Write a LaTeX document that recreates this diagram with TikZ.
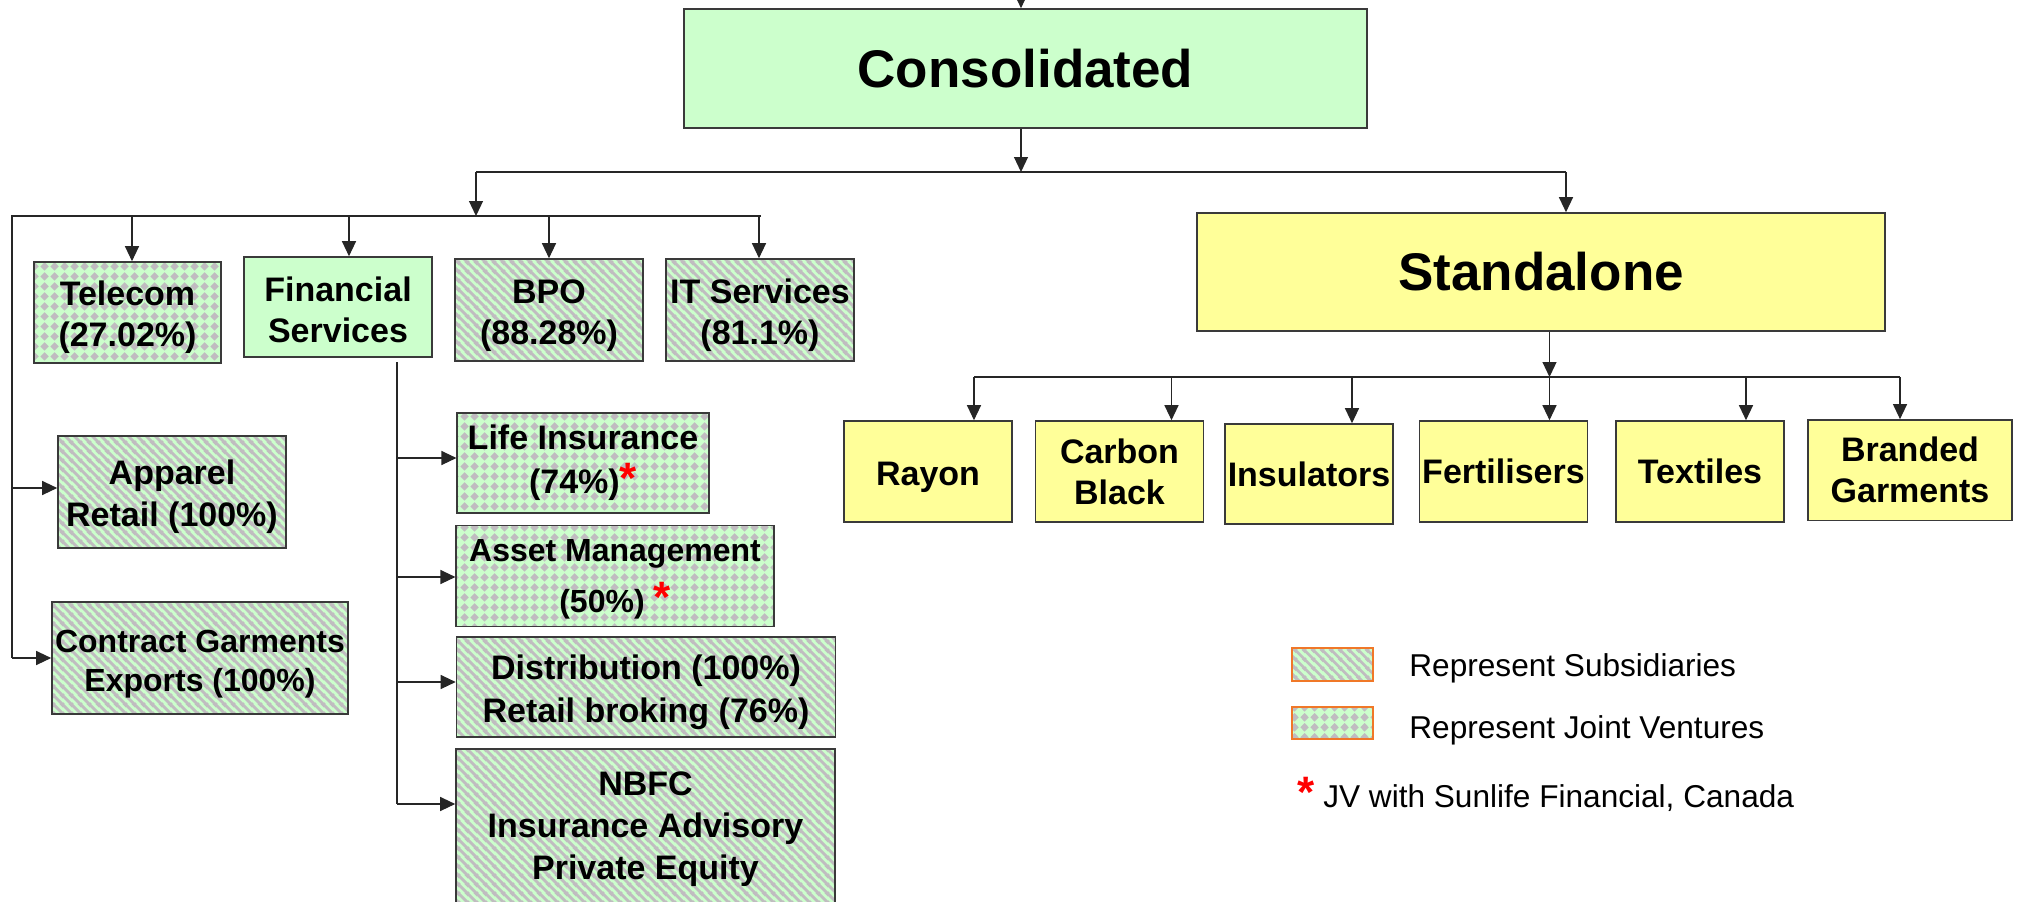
\documentclass[tikz,border=0pt]{standalone}
\usepackage{fontspec}
\setmainfont{Liberation Sans}
\usetikzlibrary{arrows.meta,patterns}

\definecolor{subgreen}{HTML}{CCFFCC}
\definecolor{standyellow}{HTML}{FFFF99}
\definecolor{hatchgray}{HTML}{C0BCC0}
\definecolor{boxgray}{HTML}{3A3A3A}
\definecolor{legendorange}{HTML}{F07828}

\pgfdeclarepatternformonly{substripes}{\pgfqpoint{0pt}{0pt}}{\pgfqpoint{4.5pt}{4.5pt}}{\pgfqpoint{4.5pt}{4.5pt}}{%
  \pgfsetlinewidth{1.5pt}%
  \pgfpathmoveto{\pgfqpoint{-1pt}{5.5pt}}\pgfpathlineto{\pgfqpoint{5.5pt}{-1pt}}%
  \pgfpathmoveto{\pgfqpoint{-1pt}{1pt}}\pgfpathlineto{\pgfqpoint{1pt}{-1pt}}%
  \pgfpathmoveto{\pgfqpoint{3.5pt}{5.5pt}}\pgfpathlineto{\pgfqpoint{5.5pt}{3.5pt}}%
  \pgfusepath{stroke}}
\pgfdeclarepatternformonly{jvdiamonds}{\pgfqpoint{0pt}{0pt}}{\pgfqpoint{5pt}{5pt}}{\pgfqpoint{5pt}{5pt}}{%
  \pgfpathmoveto{\pgfqpoint{2.5pt}{0.2pt}}\pgfpathlineto{\pgfqpoint{4.8pt}{2.5pt}}%
  \pgfpathlineto{\pgfqpoint{2.5pt}{4.8pt}}\pgfpathlineto{\pgfqpoint{0.2pt}{2.5pt}}%
  \pgfpathclose\pgfusepath{fill}}

\newcommand\jvstar{{\fontsize{22}{22}\selectfont\bfseries\textcolor{red}{*}}}
\newcommand\boxlift[1]{\rule{0pt}{#1}}

\tikzset{
  orgbox/.style={draw=boxgray, line width=0.8pt, inner sep=0pt, align=center,
    font=\fontsize{17}{20.5}\selectfont\bfseries},
  wh/.style 2 args={minimum width=#1*0.5pt, minimum height=#2*0.5pt},
  plainbox/.style={orgbox, fill=subgreen},
  subsid/.style={orgbox, preaction={fill=subgreen}, pattern=substripes, pattern color=hatchgray},
  jv/.style={orgbox, preaction={fill=subgreen}, pattern=jvdiamonds, pattern color=hatchgray},
  unitbox/.style={orgbox, fill=standyellow},
  headfont/.style={font=\fontsize{26.5}{30}\selectfont\bfseries},
  legtext/.style={inner sep=0pt, font=\fontsize{15.8}{18}\selectfont},
  link/.style={line width=0.6pt, draw=black!85},
  arr/.style={link, -{Triangle[length=7.5pt,width=7pt]}},
}

\begin{document}
\begin{tikzpicture}[x=0.5pt, y=-0.5pt]
\useasboundingbox (0,0) rectangle (2020,901);

\node[plainbox, headfont, wh={683}{119}] (consol) at (1025.5,68.5) {Consolidated};
\node[unitbox, headfont, wh={688}{118}] (stand) at (1541,272) {Standalone};

\node[jv, wh={187}{101}] (telecom) at (127.5,312.5) {\boxlift{17.5pt}Telecom\\(27.02\%)};
\node[plainbox, wh={188}{100}] (fin) at (338,307) {\boxlift{15pt}Financial\\Services};
\node[subsid, wh={188}{102}] (bpo) at (549,310) {\boxlift{17.5pt}BPO\\(88.28\%)};
\node[subsid, wh={188}{102}] (its) at (760,310) {\boxlift{17.5pt}IT Services\\(81.1\%)};
\node[subsid, wh={228}{112}, font=\fontsize{17}{21}\selectfont\bfseries] (apparel) at (172,491.7) {\boxlift{17.5pt}Apparel\\Retail (100\%)};
\node[subsid, wh={296}{112}, font=\fontsize{16}{19.5}\selectfont\bfseries] (contract) at (200,658) {\boxlift{17pt}Contract Garments\\Exports (100\%)};

\node[jv, wh={251.5}{100.3}, font=\fontsize{17}{22}\selectfont\bfseries] (life) at (583,463) {Life Insurance\\(74\%)\jvstar};
\node[jv, wh={317.5}{100.7}, font=\fontsize{16}{25.5}\selectfont\bfseries] (asset) at (615,576) {\boxlift{14pt}Asset Management\\(50\%)~\jvstar};
\node[subsid, wh={379}{100}, font=\fontsize{17}{21.5}\selectfont\bfseries] (dist) at (646,686.7) {\boxlift{17.5pt}Distribution (100\%)\\Retail broking (76\%)};
\node[subsid, wh={379}{154}, font=\fontsize{17}{21}\selectfont\bfseries] (nbfc) at (645.5,826) {\boxlift{15pt}NBFC\\Insurance Advisory\\Private Equity};

\node[unitbox, wh={168}{101}] (rayon) at (928,471.5) {\boxlift{17.5pt}Rayon};
\node[unitbox, wh={168}{101}] (carbon) at (1119.5,471.5) {Carbon\\Black};
\node[unitbox, wh={168}{100}] (insul) at (1309,474) {Insulators};
\node[unitbox, wh={168}{101}] (fert) at (1503.5,471.5) {Fertilisers};
\node[unitbox, wh={168}{101}] (textiles) at (1700,471.5) {Textiles};
\node[unitbox, wh={204.5}{100.7}] (branded) at (1910,470.3) {Branded\\Garments};

\coordinate (ctop) at (1021,-20);
\draw[arr] (ctop) -- (ctop |- consol.north);
\coordinate (csplit) at (1021,172);
\draw[arr] (csplit |- consol.south) -- (csplit);
\coordinate (lbranch) at (476,172);
\coordinate (rbranch) at (1566,172);
\draw[link] (lbranch) -- (rbranch);
\draw[arr] (rbranch) -- (rbranch |- stand.north);

\coordinate (lbus) at (476,216);
\draw[arr] (lbranch) -- (lbus);
\coordinate (busW) at (12,216);
\coordinate (busE) at (761,216);
\coordinate (sideA) at (12,488);
\coordinate (sideC) at (12,658);
\draw[link] (busE) -- (busW) -- (sideC);
\foreach \n/\x in {telecom/132, fin/349, bpo/549, its/759} {
  \coordinate (b\n) at (\x,216);
  \draw[arr] (b\n) -- (b\n |- \n.north);
}
\draw[arr] (sideA) -- (sideA -| apparel.west);
\draw[arr] (sideC) -- (sideC -| contract.west);

\coordinate (ftop) at (397,362);
\coordinate (fbot) at (397,804);
\draw[link] (ftop) -- (fbot);
\foreach \n/\y in {life/458, asset/577, dist/682, nbfc/804} {
  \coordinate (f\n) at (397,\y);
  \draw[arr] (f\n) -- (f\n -| \n.west);
}

\coordinate (sdrop) at (1549.5,377);
\draw[arr] (sdrop |- stand.south) -- (sdrop);
\coordinate (sbusW) at (974,377);
\coordinate (sbusE) at (1900,377);
\draw[link] (sbusW) -- (sbusE);
\foreach \n/\x in {rayon/974, carbon/1171.5, insul/1352, fert/1549.5, textiles/1746, branded/1900} {
  \coordinate (u\n) at (\x,377);
  \draw[arr] (u\n) -- (u\n |- \n.north);
}

\node[subsid, draw=legendorange, wh={81}{33}] (lsub) at (1332.5,664.5) {};
\node[jv, draw=legendorange, wh={81}{32}] (ljv) at (1332.5,723) {};
\node[legtext, anchor=base west] (lsubtext) at (1409,676) {Represent Subsidiaries};
\node[legtext, anchor=base west] (ljvtext) at (1409,738) {Represent Joint Ventures};
\node[legtext, anchor=base west] (lstar) at (1297,807) {\jvstar\ JV with Sunlife Financial, Canada};
\end{tikzpicture}
\end{document}
